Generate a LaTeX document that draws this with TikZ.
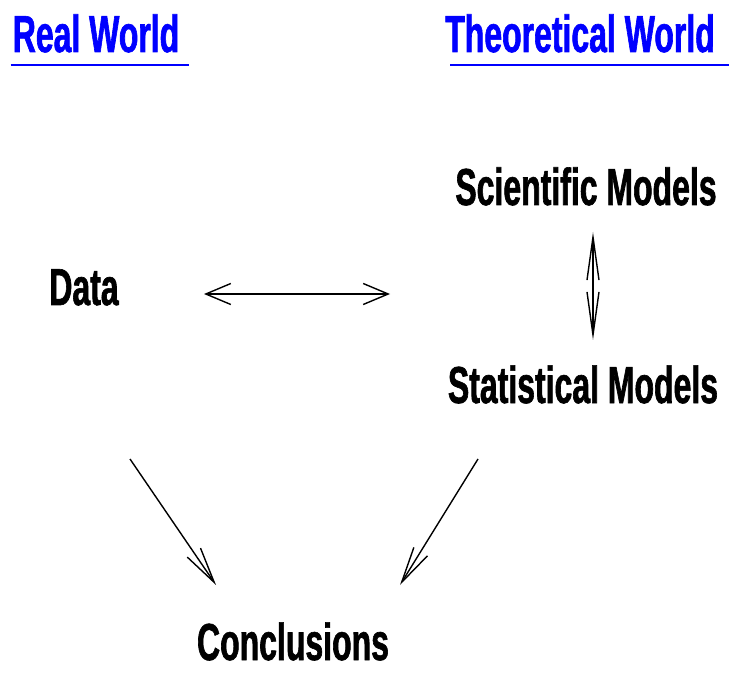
\documentclass[tikz,border=0pt]{standalone}
\usepackage{fontspec}
\newfontfamily\narrowfont{Liberation Sans}[FakeStretch=0.615, FakeBold=1.2]
\usetikzlibrary{arrows.meta,positioning}

\begin{document}
\begin{tikzpicture}[x=1pt,y=-1pt]

  \tikzset{main node/.style={anchor=base, inner sep=0pt,
  		font=\narrowfont\bfseries\fontsize{52}{58}\selectfont}, }
  \tikzset{head node/.style={main node, text=blue}, }
  \tikzset{linea/.style={line width=1.4pt, -{Straight Barb[length=36pt,width=16pt]}}, }
  \tikzset{wide/.style={line width=1.4pt, {Straight Barb[length=25pt,width=21pt]}-{Straight Barb[length=25pt,width=21pt]}}, }
  \tikzset{tall/.style={line width=1.4pt, {Straight Barb[length=43pt,width=12pt]}-{Straight Barb[length=43pt,width=12pt]}}, }

  \useasboundingbox (0,0) rectangle (729,679);

   \node[head node] (real) at (96,52)  {Real World};
   \node[head node] (theo) at (580,52) {Theoretical World};
   \node[main node] (sci)  at (586,205) {Scientific Models};
   \node[main node] (data) at (84,305)  {Data};
   \node[main node] (stat) at (583,403) {Statistical Models};
   \node[main node] (concl) at (293,660) {Conclusions};
%
   \coordinate (a1) at (204,294);
   \coordinate (a2) at (390,294);
   \coordinate (b1) at (593,232);
   \coordinate (b2) at (593,340);
   \coordinate (c1) at (130,459);
   \coordinate (c2) at (216,585);
   \coordinate (d1) at (478,459);
   \coordinate (d2) at (400,585);
%
   \draw[blue, line width=2pt] (real.base west) ++(-2,13) -- ++(178,0);
   \draw[blue, line width=2pt] (theo.base west) ++(5,13) -- ++(290,0);
%
   \draw[wide] (a1) -- (a2);
   \draw[tall] (b1) -- (b2);
\foreach \x /\y in{c1/c2,d1/d2}
   \draw[linea] (\x) -- (\y);
%
\end{tikzpicture}
\end{document}
